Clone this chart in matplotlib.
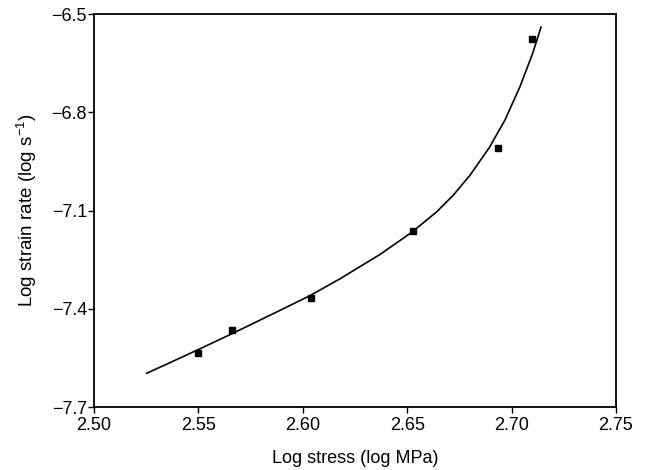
import numpy as np
import matplotlib
matplotlib.use('Agg')
import matplotlib.pyplot as plt

plt.rcParams['font.family'] = ['Liberation Sans', 'DejaVu Sans']
plt.rcParams['mathtext.fontset'] = 'custom'
plt.rcParams['mathtext.rm'] = 'Liberation Sans'
plt.rcParams['mathtext.it'] = 'Liberation Sans:italic'

# measured points
log_stress = [2.550, 2.566, 2.604, 2.653, 2.6935, 2.710]
log_strain_rate = [-7.535, -7.465, -7.367, -7.163, -6.909, -6.576]

# fitted curve
fit_stress = [2.5252, 2.5364, 2.5500, 2.5660, 2.5843, 2.6034, 2.6178, 2.6370,
              2.6522, 2.6641, 2.6721, 2.6801, 2.6893, 2.6968, 2.7040, 2.7101,
              2.7120, 2.7141]
fit_strain_rate = [-7.597, -7.5645, -7.5244, -7.4764, -7.4197, -7.3600, -7.3085, -7.2340,
                   -7.1664, -7.104, -7.053, -6.992, -6.908, -6.824, -6.722, -6.620,
                   -6.582, -6.540]

x_ticks = [2.50, 2.55, 2.60, 2.65, 2.70, 2.75]
y_ticks = [-7.7, -7.4, -7.1, -6.8, -6.5]

fig = plt.figure(figsize=(6.46, 4.70), dpi=100)
ax = fig.add_axes([0.1455, 0.134, 0.808, 0.836])

ax.plot(fit_stress, fit_strain_rate, '-', color='black', linewidth=1.2)
ax.plot(log_stress, log_strain_rate, 's', color='black', markersize=5)

ax.set_xlim(2.50, 2.75)
ax.set_ylim(-7.7, -6.5)
ax.set_xticks(x_ticks)
ax.set_xticklabels(['%.2f' % t for t in x_ticks])
ax.set_yticks(y_ticks)
ax.set_yticklabels(['\u2212%.1f' % abs(t) for t in y_ticks])

ax.tick_params(axis='both', direction='out', length=4, width=1.0, labelsize=13,
               colors='black')
ax.tick_params(axis='x', pad=3)
ax.tick_params(axis='y', pad=1)
for spine in ax.spines.values():
    spine.set_linewidth(1.3)
    spine.set_color('black')

ax.set_xlabel('Log stress (log MPa)', fontsize=13, labelpad=12)
ax.set_ylabel(r'Log strain rate (log s$^{-1}$)', fontsize=13.5, labelpad=9)

fig.savefig('out.png', dpi=100)
